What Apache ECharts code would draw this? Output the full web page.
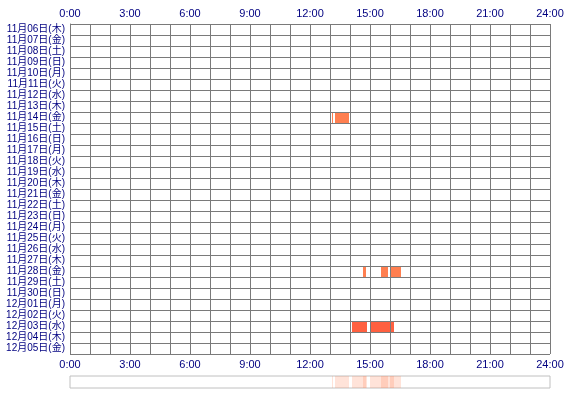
<!DOCTYPE html>
<html>
<head>
<meta charset="utf-8">
<script src="https://cdn.jsdelivr.net/npm/echarts@6/dist/echarts.min.js"></script>
<style>
  html, body { margin: 0; padding: 0; background: #fff; }
  #chart { width: 570px; height: 400px; }
</style>
</head>
<body>
<div id="chart"></div>
<script>
// 日付ごとの行
var days = [
  '11月06日(木)', '11月07日(金)', '11月08日(土)', '11月09日(日)', '11月10日(月)',
  '11月11日(火)', '11月12日(水)', '11月13日(木)', '11月14日(金)', '11月15日(土)',
  '11月16日(日)', '11月17日(月)', '11月18日(火)', '11月19日(水)', '11月20日(木)',
  '11月21日(金)', '11月22日(土)', '11月23日(日)', '11月24日(月)', '11月25日(火)',
  '11月26日(水)', '11月27日(木)', '11月28日(金)', '11月29日(土)', '11月30日(日)',
  '12月01日(月)', '12月02日(火)', '12月03日(水)', '12月04日(木)', '12月05日(金)'
]
// 時間ラベル (3時間ごと)
var hourLabels = ['0:00', '3:00', '6:00', '9:00', '12:00', '15:00', '18:00', '21:00', '24:00']

// アクティブ時間帯 (行 / 開始時 / 終了時)
var sessionDay = ['11月14日(金)', '11月14日(金)', '11月28日(金)', '11月28日(金)', '11月28日(金)', '12月03日(水)', '12月03日(水)']
var sessionStart = [13.10, 13.25, 14.65, 15.55, 16.00, 14.10, 15.00]
var sessionEnd   = [13.15, 13.95, 14.80, 15.90, 16.55, 14.85, 16.20]

var gridColor = '#7a7a7a'
var labelStyle = { color: '#000080', fontSize: 11, fontFamily: '"Liberation Sans", "Noto Sans CJK JP", sans-serif' }

var mainData = sessionDay.map(function (d, i) {
    return [days.indexOf(d), sessionStart[i], sessionEnd[i]]
})
var stripData = sessionDay.map(function (d, i) {
    return [0, sessionStart[i], sessionEnd[i]]
})

function barColor(row) {
    // 12/03 は少し赤め
    return days[row] === '12月03日(水)' ? '#ff6040' : '#ff7f50'
}

function makeRender(alpha) {
    return function (params, api) {
        var row = api.value(0)
        var p0 = api.coord([api.value(1), row])
        var p1 = api.coord([api.value(2), row])
        var h = api.size([0, 1])[1]
        return {
            type: 'rect',
            shape: { x: p0[0], y: p0[1] - h / 2, width: Math.max(p1[0] - p0[0], 1), height: h },
            style: { fill: barColor(row), opacity: alpha }
        }
    }
}

function hourFormatter(v) {
    return v % 3 === 0 ? hourLabels[v / 3] : ''
}

var myChart = echarts.init(document.getElementById('chart'))
var option = {
    animation: false,
    grid: [
        { left: 70, right: 20, top: 24, height: 330 },
        { left: 70, right: 20, top: 376, height: 12, show: true, borderColor: '#c0c0c0', borderWidth: 1, backgroundColor: '#fff' }
    ],
    xAxis: [
        {
            type: 'value', gridIndex: 0, position: 'top', min: 0, max: 24, interval: 1, z: 10,
            axisLine: { show: false }, axisTick: { show: false },
            splitLine: { show: true, lineStyle: { color: gridColor, width: 1 } },
            axisLabel: Object.assign({ margin: 5, formatter: hourFormatter }, labelStyle)
        },
        {
            type: 'value', gridIndex: 0, position: 'bottom', min: 0, max: 24, interval: 1, z: 10,
            axisLine: { show: false }, axisTick: { show: false }, splitLine: { show: false },
            axisLabel: Object.assign({ margin: 5, formatter: hourFormatter }, labelStyle)
        },
        {
            type: 'value', gridIndex: 1, min: 0, max: 24, show: false
        }
    ],
    yAxis: [
        {
            type: 'category', gridIndex: 0, data: days, inverse: true, z: 10,
            axisLine: { show: true, lineStyle: { color: gridColor } }, axisTick: { show: false },
            splitLine: { show: true, lineStyle: { color: gridColor, width: 1 } },
            axisLabel: Object.assign({ margin: 5, interval: 0 }, labelStyle, { fontSize: 10 })
        },
        {
            type: 'category', gridIndex: 1, data: [''], show: false
        }
    ],
    series: [
        {
            type: 'custom', xAxisIndex: 0, yAxisIndex: 0,
            renderItem: makeRender(1),
            encode: { x: [1, 2], y: 0 },
            data: mainData
        },
        {
            type: 'custom', xAxisIndex: 2, yAxisIndex: 1,
            renderItem: makeRender(0.22),
            encode: { x: [1, 2], y: 0 },
            data: stripData
        }
    ]
}
myChart.setOption(option)
</script>
</body>
</html>
